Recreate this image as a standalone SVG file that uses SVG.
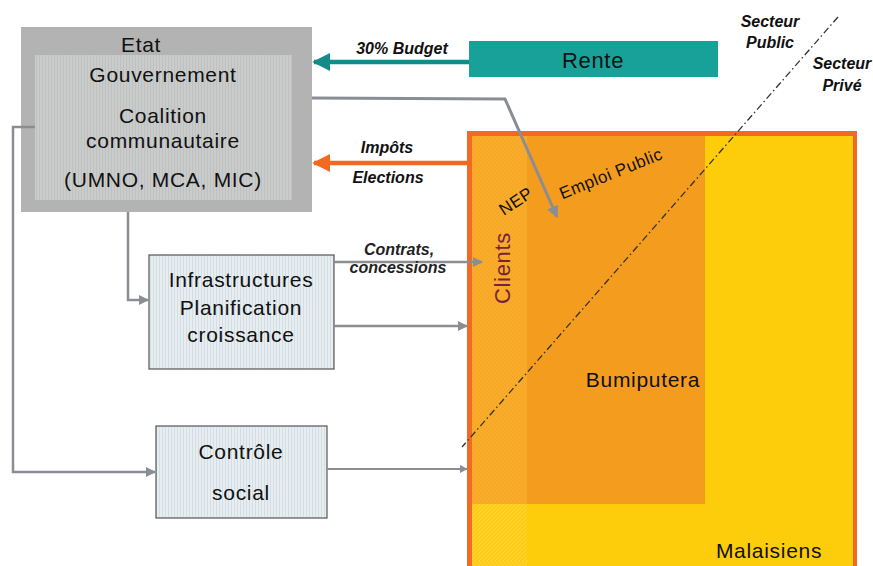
<svg xmlns="http://www.w3.org/2000/svg" width="873" height="566" viewBox="0 0 873 566">
<style>
text{font-family:"Liberation Sans",Arial,sans-serif;fill:#111;}
.lbl{font-size:21px;letter-spacing:0.7px;text-anchor:middle;}
.bi{font-size:16px;font-style:italic;font-weight:bold;text-anchor:middle;}
.it{font-size:16px;font-style:italic;font-weight:bold;text-anchor:middle;fill:#222;}
.gc{fill:none;stroke:#8A8E94;stroke-width:2.5;}
</style>
<defs>
<pattern id="vh" width="3" height="4" patternUnits="userSpaceOnUse"><rect width="3" height="4" fill="#E6EEF1"/><rect width="1" height="4" fill="#D3DDE2"/></pattern>
<pattern id="vg" width="3" height="4" patternUnits="userSpaceOnUse"><rect width="3" height="4" fill="#CACCCC"/><rect width="1" height="4" fill="#BFC1C1"/></pattern>
<pattern id="xh" width="4" height="4" patternUnits="userSpaceOnUse"><rect width="4" height="4" fill="#F6A826"/><path d="M0 4L4 0" stroke="#F8B02E" stroke-width="1"/></pattern>
<pattern id="xy" width="4" height="4" patternUnits="userSpaceOnUse"><rect width="4" height="4" fill="#FCCC16"/><path d="M0 4L4 0" stroke="#FDD53A" stroke-width="1"/></pattern>
<marker id="ag" viewBox="0 0 10 10" refX="9" refY="5" markerWidth="4" markerHeight="4" orient="auto" markerUnits="strokeWidth"><path d="M0 0L10 5L0 10z" fill="#8A8E94"/></marker>
<marker id="at" viewBox="0 0 10 10" refX="9" refY="5" markerWidth="4" markerHeight="4" orient="auto" markerUnits="strokeWidth"><path d="M0 0L10 5L0 10z" fill="#138B88"/></marker>
<marker id="ao" viewBox="0 0 10 10" refX="9" refY="5" markerWidth="4" markerHeight="4" orient="auto" markerUnits="strokeWidth"><path d="M0 0L10 5L0 10z" fill="#F26A22"/></marker>
</defs>
<rect width="873" height="566" fill="#fff"/>

<g id="population">
<rect x="467" y="131" width="390" height="440" fill="#F26A22"/>
<rect x="472" y="136" width="55" height="368" fill="url(#xh)"/>
<rect x="527" y="136" width="178" height="368" fill="#F49C1D"/>
<rect x="705" y="136" width="148" height="435" fill="#FDCC0B"/>
<rect x="527" y="504" width="178" height="67" fill="#FDCC0B"/>
<rect x="472" y="504" width="55" height="67" fill="url(#xy)"/>
<text x="0" y="0" transform="translate(510,268) rotate(-90)" class="lbl" style="fill:#7A1F3D;font-size:22px">Clients</text>
<text x="0" y="0" transform="translate(519,206) rotate(-33)" style="font-size:17px;text-anchor:middle;letter-spacing:0.5px">NEP</text>
<text x="0" y="0" transform="translate(613,179) rotate(-22)" style="font-size:17px;text-anchor:middle;letter-spacing:0.5px">Emploi Public</text>
<text x="643" y="387" class="lbl">Bumiputera</text>
<text x="769" y="558" class="lbl">Malaisiens</text>
</g>

<g id="secteur">
<line x1="838" y1="17" x2="462" y2="447" stroke="#333" stroke-width="1.3" stroke-dasharray="7,3,1.5,3"/>
<text x="770" y="27" class="bi">Secteur</text>
<text x="770" y="48" class="bi">Public</text>
<text x="842" y="69" class="bi">Secteur</text>
<text x="842" y="91" class="bi">Privé</text>
</g>

<g id="etat">
<rect x="21" y="27" width="291" height="185" fill="#B3B3B3"/>
<rect x="35" y="55" width="257" height="145" fill="url(#vg)"/>
<text x="141" y="52" class="lbl">Etat</text>
<text x="163" y="82" class="lbl">Gouvernement</text>
<text x="163" y="123" class="lbl">Coalition</text>
<text x="163" y="148" class="lbl">communautaire</text>
<text x="163" y="187" class="lbl">(UMNO, MCA, MIC)</text>
</g>

<g id="rente">
<rect x="469" y="41" width="249" height="36" fill="#18A198"/>
<text x="593" y="68" class="lbl" style="font-size:22px">Rente</text>
</g>

<g id="infra">
<rect x="149" y="255" width="185" height="114" fill="url(#vh)" stroke="#555" stroke-width="1.2"/>
<text x="241" y="287" class="lbl">Infrastructures</text>
<text x="241" y="315" class="lbl">Planification</text>
<text x="241" y="342" class="lbl">croissance</text>
</g>

<g id="controle">
<rect x="156" y="426" width="171" height="92" fill="url(#vh)" stroke="#555" stroke-width="1.2"/>
<text x="241" y="459" class="lbl">Contrôle</text>
<text x="241" y="500" class="lbl">social</text>
</g>

<g id="connectors">
<line x1="469" y1="62" x2="314" y2="62" stroke="#138B88" stroke-width="4.5" marker-end="url(#at)"/>
<line x1="467" y1="163" x2="314" y2="163" stroke="#F26A22" stroke-width="4.5" marker-end="url(#ao)"/>
<polyline points="312,98 505,99 557,217" class="gc" style="stroke-width:3" marker-end="url(#ag)"/>
<polyline points="128,212 128,300 148,300" class="gc" marker-end="url(#ag)"/>
<polyline points="35,127 13,127 13,472 155,472" class="gc" marker-end="url(#ag)"/>
<line x1="334" y1="262" x2="482" y2="262" class="gc" marker-end="url(#ag)"/>
<line x1="334" y1="326" x2="467" y2="326" class="gc" marker-end="url(#ag)"/>
<line x1="327" y1="469" x2="467" y2="469" class="gc" style="stroke-width:2" marker-end="url(#ag)"/>
<text x="402" y="54" class="bi">30% Budget</text>
<text x="387" y="153" class="bi">Impôts</text>
<text x="388" y="183" class="bi">Elections</text>
<text x="399" y="255" class="it">Contrats,</text>
<text x="398" y="273" class="it">concessions</text>
</g>
</svg>
